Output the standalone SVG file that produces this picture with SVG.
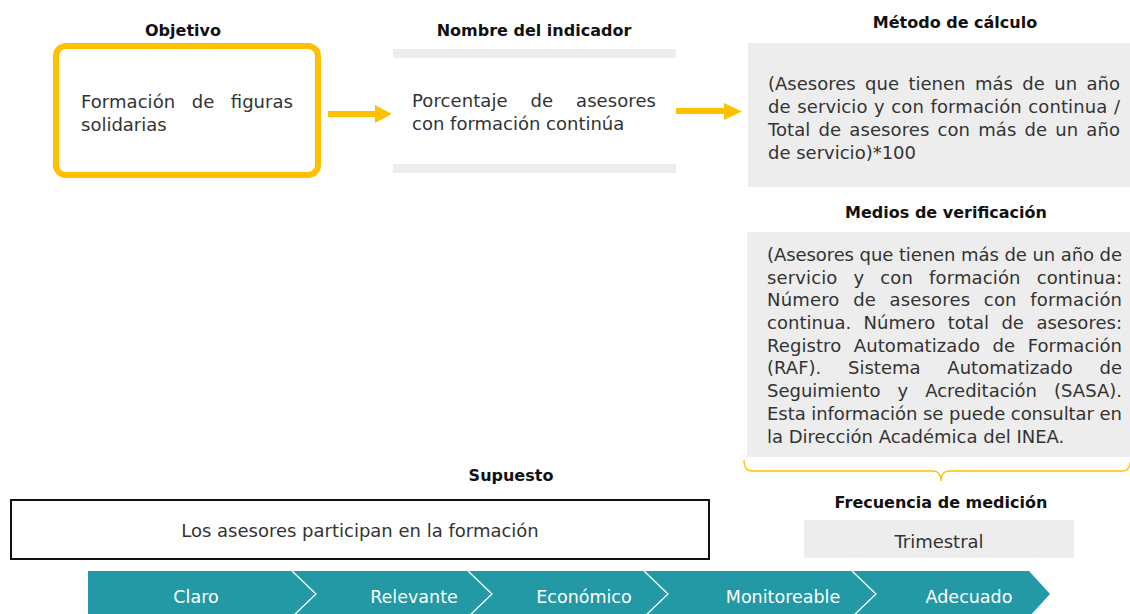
<svg xmlns="http://www.w3.org/2000/svg" width="1130" height="614" viewBox="0 0 1130 614">
<defs>
<style>
.t{font-family:"DejaVu Sans","Liberation Sans",sans-serif;font-size:16px;font-weight:bold;fill:#111;text-anchor:middle}
.b{font-family:"DejaVu Sans","Liberation Sans",sans-serif;font-size:18px;fill:#333}
.c{font-family:"DejaVu Sans","Liberation Sans",sans-serif;font-size:17.5px;fill:#fff;text-anchor:middle}
.g{fill:#EDEDED}
.arr{stroke:#FFC000;stroke-width:6;fill:none}
.ah{fill:#FFC000}
.sep{stroke:#fff;stroke-width:1.3;fill:none}
</style>
</defs>
<g id="objetivo">
<text class="t" x="183" y="36">Objetivo</text>
<rect x="56" y="46" width="262" height="129" rx="10" fill="#fff" stroke="#FFC000" stroke-width="6"/>
<text class="b" x="81" y="108" word-spacing="10.7" textLength="212" lengthAdjust="spacing">Formación de figuras</text>
<text class="b" x="81" y="131">solidarias</text>
</g>
<g id="nombre">
<text class="t" x="534" y="36">Nombre del indicador</text>
<rect class="g" x="393" y="49" width="283" height="9"/>
<rect class="g" x="393" y="164" width="283" height="9"/>
<text class="b" x="412" y="107" word-spacing="17" textLength="244" lengthAdjust="spacing">Porcentaje de asesores</text>
<text class="b" x="412" y="130">con formación continúa</text>
</g>
<g id="metodo">
<text class="t" x="955" y="28">Método de cálculo</text>
<rect class="g" x="748" y="43" width="382" height="144"/>
<text class="b" x="768" y="90" word-spacing="3.7" textLength="352" lengthAdjust="spacing">(Asesores que tienen más de un año</text>
<text class="b" x="768" y="113" word-spacing="0.7" textLength="352" lengthAdjust="spacing">de servicio y con formación continua /</text>
<text class="b" x="768" y="136" word-spacing="2.3" textLength="352" lengthAdjust="spacing">Total de asesores con más de un año</text>
<text class="b" x="768" y="159">de servicio)*100</text>
</g>
<g id="medios">
<text class="t" x="946" y="218">Medios de verificación</text>
<rect class="g" x="747" y="232" width="383" height="225"/>
<text class="b" x="767" y="261" textLength="355" lengthAdjust="spacing">(Asesores que tienen más de un año de</text>
<text class="b" x="767" y="284" word-spacing="10.2" textLength="355" lengthAdjust="spacing">servicio y con formación continua:</text>
<text class="b" x="767" y="306" word-spacing="7.7" textLength="355" lengthAdjust="spacing">Número de asesores con formación</text>
<text class="b" x="767" y="329" word-spacing="6.7" textLength="355" lengthAdjust="spacing">continua. Número total de asesores:</text>
<text class="b" x="767" y="352" word-spacing="6.7" textLength="355" lengthAdjust="spacing">Registro Automatizado de Formación</text>
<text class="b" x="767" y="374" word-spacing="21" textLength="355" lengthAdjust="spacing">(RAF). Sistema Automatizado de</text>
<text class="b" x="767" y="397" word-spacing="11.3" textLength="355" lengthAdjust="spacing">Seguimiento y Acreditación (SASA).</text>
<text class="b" x="767" y="420" textLength="355" lengthAdjust="spacing">Esta información se puede consultar en</text>
<text class="b" x="767" y="443">la Dirección Académica del INEA.</text>
<path d="M744,460 Q744,471 752,471 L933,471 Q941,471 941,481 Q941,471 949,471 L1122,471 Q1130,471 1130,462" fill="none" stroke="#FFC000" stroke-width="1.3"/>
</g>
<g id="supuesto">
<text class="t" x="511" y="481">Supuesto</text>
<rect x="11" y="500" width="698" height="59" fill="#fff" stroke="#111" stroke-width="2"/>
<text class="b" x="360" y="537" text-anchor="middle">Los asesores participan en la formación</text>
</g>
<g id="frecuencia">
<text class="t" x="941" y="508">Frecuencia de medición</text>
<rect class="g" x="804" y="520" width="270" height="38"/>
<text class="b" x="939" y="548" text-anchor="middle">Trimestral</text>
</g>
<g id="criterios">
<polygon points="88,571 1029,571 1050,594 1029,617 88,617" fill="#2399A5"/>
<path class="sep" d="M292,571 L316,594 L292,617 M468,571 L492,594 L468,617 M644,571 L668,594 L644,617 M852,571 L876,594 L852,617"/>
<text class="c" x="196" y="603">Claro</text>
<text class="c" x="414" y="603">Relevante</text>
<text class="c" x="584" y="603">Económico</text>
<text class="c" x="783" y="603">Monitoreable</text>
<text class="c" x="969" y="603">Adecuado</text>
</g>
<g id="connectors">
<line class="arr" x1="328" y1="114" x2="376" y2="114"/>
<polygon class="ah" points="375,105 392,114 375,123"/>
<line class="arr" x1="676" y1="111" x2="725" y2="111"/>
<polygon class="ah" points="724,103 742,111.5 724,120"/>
</g>
</svg>
